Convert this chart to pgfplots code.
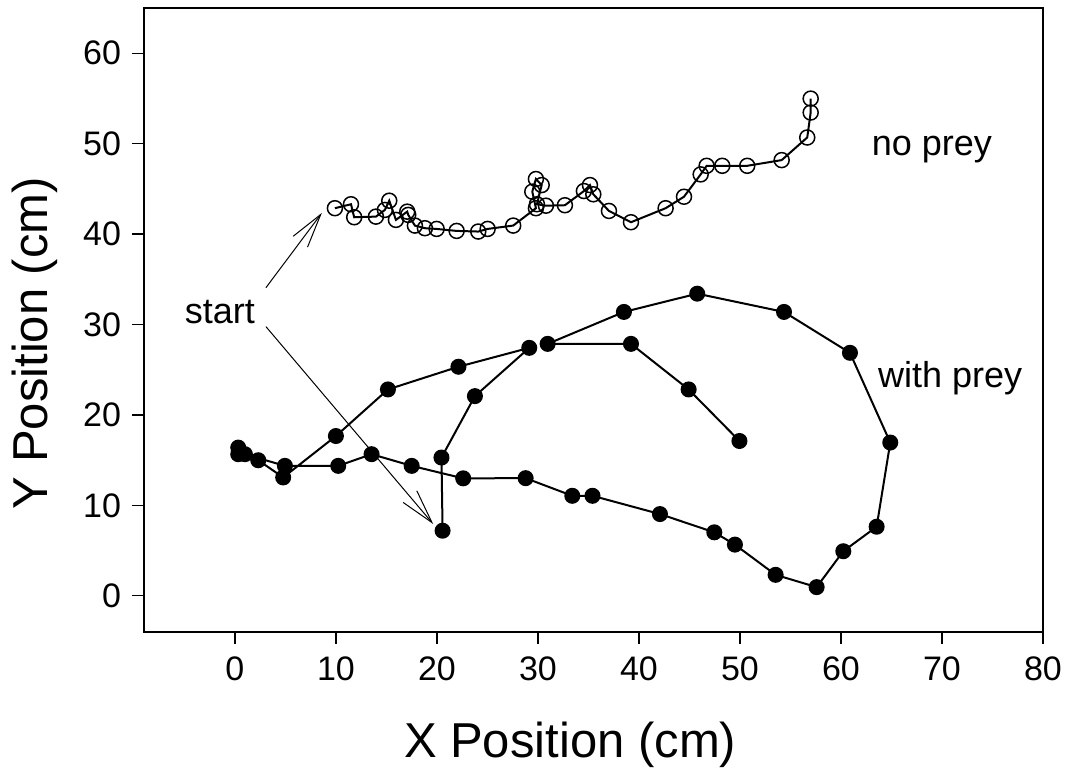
\documentclass[border=0pt]{standalone}
\usepackage{pgfplots}
\pgfplotsset{compat=1.18}
\usepackage{fontspec}
\setmainfont{Liberation Sans}
\usetikzlibrary{arrows.meta}

\begin{document}
\begin{tikzpicture}
\begin{axis}[
    scale only axis,
    width=449.5pt,
    height=312pt,
    xmin=-9, xmax=80,
    ymin=-4, ymax=65,
    xtick={0,10,...,80},
    ytick={0,10,...,60},
    xtick pos=bottom,
    ytick pos=left,
    tick align=outside,
    major tick length=6pt,
    tick style={black, line width=0.6pt},
    axis line style={line width=0.65pt},
    /pgf/number format/assume math mode=true,
    ticklabel style={font=\fontsize{17}{20}\selectfont},
    xticklabel style={yshift=-3pt},
    yticklabel style={xshift=-2pt},
    xlabel={X Position (cm)},
    ylabel={Y Position (cm)},
    label style={font=\fontsize{24.5}{28}\selectfont},
    xlabel style={at={(axis description cs:0.474,-0.181)}, anchor=center},
    ylabel style={at={(axis description cs:-0.1212,0.463)}, anchor=center},
    clip=false,
]
% with prey
\addplot[black, line width=1pt, mark=*, mark size=3.5pt, mark options={fill=black}]
coordinates {
    (20.56, 7.20) (20.45, 15.29) (23.76, 22.08) (29.14, 27.42)
    (22.13, 25.33) (15.15, 22.82) (10.00, 17.67) (4.78, 13.09)
    (2.31, 14.99) (0.33, 16.39) (0.33, 15.66) (0.99, 15.66)
    (4.95, 14.37) (10.23, 14.37) (13.53, 15.66) (17.50, 14.37)
    (22.60, 12.99) (28.78, 13.01) (33.40, 11.06) (35.40, 11.06)
    (42.08, 9.04) (47.46, 7.02) (49.50, 5.66) (53.53, 2.32)
    (57.59, 0.96) (60.23, 4.93) (63.53, 7.64) (64.88, 16.95)
    (60.89, 26.87) (54.36, 31.39) (45.77, 33.41) (38.51, 31.39)
    (30.96, 27.86) (39.21, 27.86) (44.92, 22.82) (49.95, 17.12)
};
% no prey
\addplot[black, line width=1pt, mark=o, mark size=3.75pt, mark options={line width=0.75pt}]
coordinates {
    (9.90, 42.86) (11.49, 43.30) (11.81, 41.86) (13.96, 41.93)
    (14.85, 42.67) (15.28, 43.69) (15.94, 41.57) (17.06, 42.48)
    (17.16, 42.12) (17.82, 40.94) (18.81, 40.65) (19.97, 40.57)
    (21.95, 40.35) (24.09, 40.28) (25.02, 40.57) (27.55, 40.94)
    (29.80, 42.86) (29.44, 44.69) (29.80, 46.09) (30.37, 45.42)
    (29.90, 43.30) (30.79, 43.14) (32.67, 43.19) (34.55, 44.76)
    (35.15, 45.42) (35.48, 44.40) (37.03, 42.56) (39.21, 41.31)
    (42.64, 42.86) (44.46, 44.13) (46.11, 46.60) (46.70, 47.55)
    (48.25, 47.55) (50.72, 47.55) (54.13, 48.18) (56.66, 50.68)
    (57.00, 53.44) (57.00, 54.98)
};
\node[font=\fontsize{18}{21}\selectfont] at (axis cs:69,49.4) {no prey};
\node[font=\fontsize{18}{21}\selectfont] at (axis cs:70.8,24.1) {with prey};
\node[font=\fontsize{18}{21}\selectfont] at (axis cs:-1.5,31.4) {start};
\draw[line width=0.5pt, -{Straight Barb[length=17pt, width=9pt]}]
    (axis cs:3.07,34.07) -- (axis cs:8.61,42.34);
\draw[line width=0.5pt, -{Straight Barb[length=17pt, width=9pt]}]
    (axis cs:3.07,29.77) -- (axis cs:19.63,7.94);
\end{axis}
\pgfresetboundingbox
\path ([xshift=-72pt,yshift=-73pt]current axis.south west) rectangle ([xshift=13.5pt,yshift=4pt]current axis.north east);
\end{tikzpicture}
\end{document}
